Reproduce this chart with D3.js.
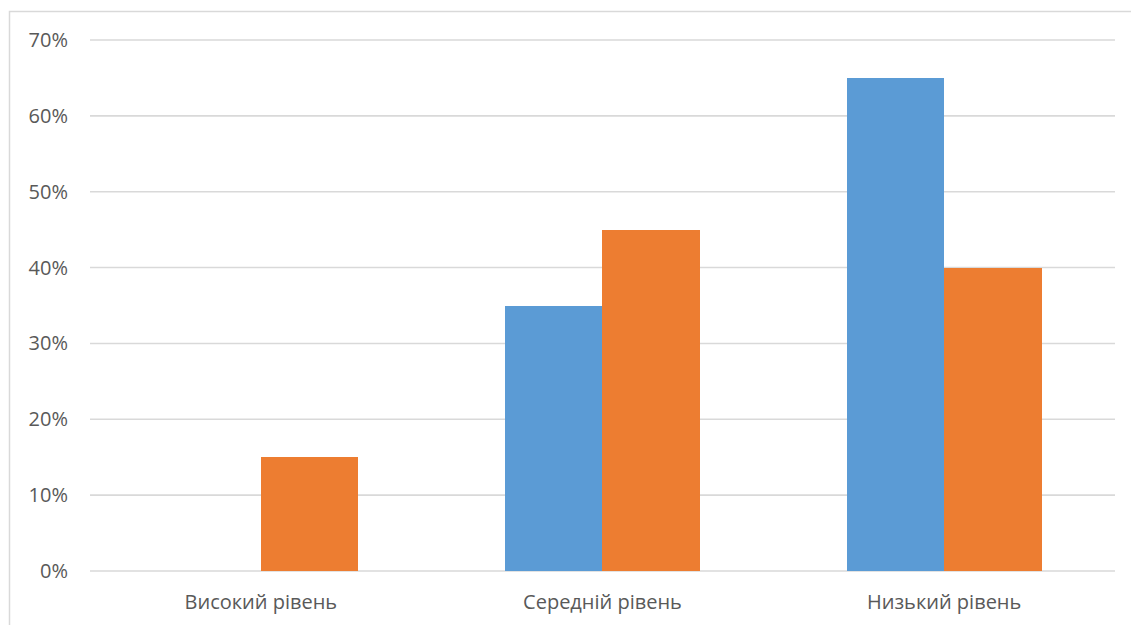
<!DOCTYPE html>
<html>
<head>
<meta charset="utf-8">
<script src="https://cdn.jsdelivr.net/npm/d3@7"></script>
<style>
  body { margin: 0; background: #fff; }
  svg { display: block; }
</style>
</head>
<body>
<div id="chart"></div>
<script>
var categories = ["Високий рівень", "Середній рівень", "Низький рівень"];
var seriesNames = ["s1", "s2"];
var series1 = [0, 35, 65];
var series2 = [15, 45, 40];
var yTicks = [0, 10, 20, 30, 40, 50, 60, 70];

var _width = 1131, _height = 625;
var colors = d3.scaleOrdinal().domain(seriesNames).range(["#5B9BD5", "#ED7D31"]);

var svg = d3.select("#chart").append("svg")
  .attr("width", _width)
  .attr("height", _height);

// chart area border
svg.append("path")
  .attr("d", "M9.5," + _height + "V11.5H" + (_width + 2))
  .attr("fill", "none")
  .attr("stroke", "#d9d9d9")
  .attr("stroke-width", 1.5);

var plotLeft = 90, plotRight = 1115, plotTop = 40, plotBottom = 571;

var y = d3.scaleLinear().domain([0, 70]).range([plotBottom, plotTop]);
var x0 = d3.scaleBand().domain(categories).range([plotLeft, plotRight]);
var x1 = d3.scaleBand().domain(seriesNames).range([0, x0.bandwidth()])
  .paddingInner(0).paddingOuter(0.75);

// gridlines
svg.append("g").attr("class", "grid")
  .selectAll("line").data(yTicks).enter()
  .append("line")
    .attr("x1", plotLeft).attr("x2", plotRight)
    .attr("y1", function (d) { return y(d); })
    .attr("y2", function (d) { return y(d); })
    .attr("stroke", "#d9d9d9")
    .attr("stroke-width", 1.6);

// y labels
svg.append("g").attr("class", "ylabels")
  .selectAll("text").data(yTicks).enter()
  .append("text")
    .attr("x", 68)
    .attr("y", function (d) { return y(d); })
    .attr("dy", "0.35em")
    .attr("text-anchor", "end")
    .attr("fill", "#595959")
    .style("font-family", "'Open Sans', sans-serif")
    .style("font-size", "20px")
    .text(function (d) { return d + "%"; });

var rows = categories.map(function (c, i) {
  return { cat: c, values: [
    { key: "s1", value: series1[i] },
    { key: "s2", value: series2[i] }
  ]};
});

var groups = svg.append("g").attr("class", "bars")
  .selectAll("g").data(rows).enter()
  .append("g")
    .attr("transform", function (d) { return "translate(" + x0(d.cat) + ",0)"; });

groups.selectAll("rect")
  .data(function (d) { return d.values; })
  .enter().append("rect")
    .attr("x", function (d) { return x1(d.key); })
    .attr("width", x1.bandwidth())
    .attr("y", function (d) { return y(d.value); })
    .attr("height", function (d) { return y(0) - y(d.value); })
    .attr("fill", function (d) { return colors(d.key); })
    .attr("shape-rendering", "crispEdges");

// category labels
svg.append("g").attr("class", "xlabels")
  .selectAll("text").data(categories).enter()
  .append("text")
    .attr("x", function (d) { return x0(d) + x0.bandwidth() / 2; })
    .attr("y", 609)
    .attr("text-anchor", "middle")
    .attr("fill", "#595959")
    .style("font-family", "'Open Sans', sans-serif")
    .style("font-size", "20px")
    .text(function (d) { return d; });
</script>
</body>
</html>
